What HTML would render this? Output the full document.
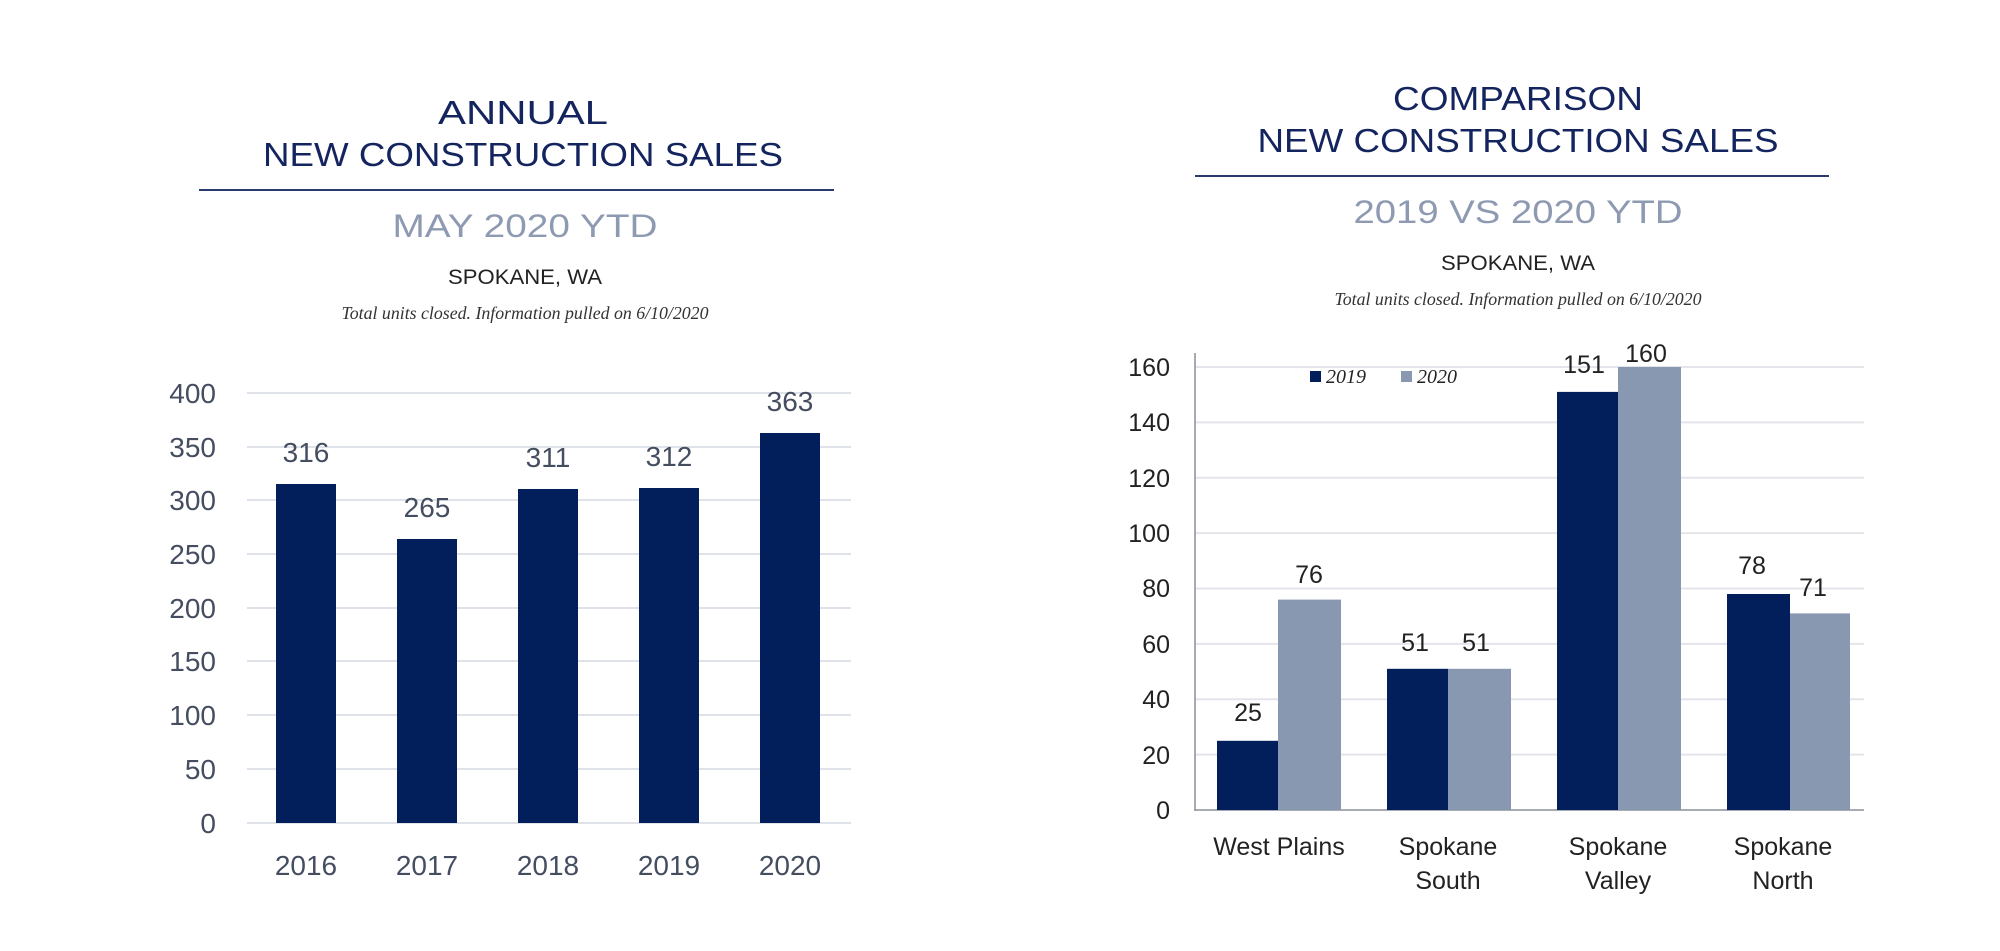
<!DOCTYPE html>
<html><head><meta charset="utf-8"><style>
html,body{margin:0;padding:0;background:#fff;}
svg{display:block;}
</style></head><body>
<svg width="2000" height="951" viewBox="0 0 2000 951" xmlns="http://www.w3.org/2000/svg">
<rect width="2000" height="951" fill="#fff"/>
<g font-family="Liberation Sans, sans-serif" text-anchor="middle">
<text x="523" y="124" font-size="33" fill="#14245e" textLength="170" lengthAdjust="spacingAndGlyphs">ANNUAL</text>
<text x="523" y="166" font-size="33" fill="#14245e" textLength="520" lengthAdjust="spacingAndGlyphs">NEW CONSTRUCTION SALES</text>
<rect x="199" y="189" width="635" height="2" fill="#2a3a6e"/>
<text x="525" y="237" font-size="32" fill="#8e9ab2" textLength="265" lengthAdjust="spacingAndGlyphs">MAY 2020 YTD</text>
<text x="525" y="284" font-size="21" fill="#222" textLength="154" lengthAdjust="spacingAndGlyphs">SPOKANE, WA</text>
<text x="525" y="319" font-size="18" fill="#333" font-family="Liberation Serif, serif" font-style="italic" textLength="367" lengthAdjust="spacingAndGlyphs">Total units closed.  Information pulled on 6/10/2020</text>

<text x="1518" y="110" font-size="33" fill="#14245e" textLength="250" lengthAdjust="spacingAndGlyphs">COMPARISON</text>
<text x="1518" y="152" font-size="33" fill="#14245e" textLength="521" lengthAdjust="spacingAndGlyphs">NEW CONSTRUCTION SALES</text>
<rect x="1195" y="175" width="634" height="2" fill="#2a3a6e"/>
<text x="1518" y="223" font-size="32" fill="#8e9ab2" textLength="329" lengthAdjust="spacingAndGlyphs">2019 VS 2020 YTD</text>
<text x="1518" y="270" font-size="21" fill="#222" textLength="154" lengthAdjust="spacingAndGlyphs">SPOKANE, WA</text>
<text x="1518" y="305" font-size="18" fill="#333" font-family="Liberation Serif, serif" font-style="italic" textLength="367" lengthAdjust="spacingAndGlyphs">Total units closed.  Information pulled on 6/10/2020</text>
</g>

<!-- Left chart -->
<g stroke="#dfe2e8" stroke-width="2">
<line x1="247" x2="851" y1="393" y2="393"/>
<line x1="247" x2="851" y1="447" y2="447"/>
<line x1="247" x2="851" y1="500" y2="500"/>
<line x1="247" x2="851" y1="554" y2="554"/>
<line x1="247" x2="851" y1="608" y2="608"/>
<line x1="247" x2="851" y1="661" y2="661"/>
<line x1="247" x2="851" y1="715" y2="715"/>
<line x1="247" x2="851" y1="769" y2="769"/>
<line x1="247" x2="851" y1="823" y2="823"/>
</g>
<g font-family="Liberation Sans, sans-serif" font-size="28" fill="#454d60" text-anchor="end">
<text x="216" y="403">400</text><text x="216" y="457">350</text><text x="216" y="510">300</text>
<text x="216" y="564">250</text><text x="216" y="618">200</text><text x="216" y="671">150</text>
<text x="216" y="725">100</text><text x="216" y="779">50</text><text x="216" y="833">0</text>
</g>
<g fill="#021f5c">
<rect x="276" y="484" width="60" height="339"/>
<rect x="397" y="539" width="60" height="284"/>
<rect x="518" y="489" width="60" height="334"/>
<rect x="639" y="488" width="60" height="335"/>
<rect x="760" y="433" width="60" height="390"/>
</g>
<g font-family="Liberation Sans, sans-serif" font-size="28" fill="#454d60" text-anchor="middle">
<text x="306" y="462">316</text><text x="427" y="517">265</text><text x="548" y="467">311</text>
<text x="669" y="466">312</text><text x="790" y="411">363</text>
<text x="306" y="875">2016</text><text x="427" y="875">2017</text><text x="548" y="875">2018</text>
<text x="669" y="875">2019</text><text x="790" y="875">2020</text>
</g>

<!-- Right chart -->
<g stroke="#e3e5ea" stroke-width="2">
<line x1="1195" x2="1864" y1="367" y2="367"/>
<line x1="1195" x2="1864" y1="422.4" y2="422.4"/>
<line x1="1195" x2="1864" y1="477.8" y2="477.8"/>
<line x1="1195" x2="1864" y1="533.1" y2="533.1"/>
<line x1="1195" x2="1864" y1="588.5" y2="588.5"/>
<line x1="1195" x2="1864" y1="643.9" y2="643.9"/>
<line x1="1195" x2="1864" y1="699.3" y2="699.3"/>
<line x1="1195" x2="1864" y1="754.6" y2="754.6"/>
</g>
<line x1="1195" x2="1195" y1="353" y2="811" stroke="#8a8f99" stroke-width="1.5"/>
<line x1="1195" x2="1864" y1="810" y2="810" stroke="#8a8f99" stroke-width="1.5"/>
<g font-family="Liberation Sans, sans-serif" font-size="25" fill="#222" text-anchor="end">
<text x="1170" y="376">160</text><text x="1170" y="431">140</text><text x="1170" y="487">120</text>
<text x="1170" y="542">100</text><text x="1170" y="597">80</text><text x="1170" y="653">60</text>
<text x="1170" y="708">40</text><text x="1170" y="764">20</text><text x="1170" y="819">0</text>
</g>
<g fill="#021f5c">
<rect x="1217" y="740.8" width="61" height="69.2"/>
<rect x="1387" y="668.8" width="61" height="141.2"/>
<rect x="1557" y="391.9" width="61" height="418.1"/>
<rect x="1727" y="594" width="63" height="216"/>
</g>
<g fill="#8898b0">
<rect x="1278" y="599.6" width="63" height="210.4"/>
<rect x="1448" y="668.8" width="63" height="141.2"/>
<rect x="1618" y="367" width="63" height="443"/>
<rect x="1790" y="613.4" width="60" height="196.6"/>
</g>
<g font-family="Liberation Sans, sans-serif" font-size="25" fill="#222" text-anchor="middle">
<text x="1248" y="721">25</text><text x="1309" y="583">76</text>
<text x="1415" y="651">51</text><text x="1476" y="651">51</text>
<text x="1584" y="373">151</text><text x="1646" y="362">160</text>
<text x="1752" y="574">78</text><text x="1813" y="596">71</text>
<text x="1279" y="855">West Plains</text>
<text x="1448" y="855">Spokane</text><text x="1448" y="889">South</text>
<text x="1618" y="855">Spokane</text><text x="1618" y="889">Valley</text>
<text x="1783" y="855">Spokane</text><text x="1783" y="889">North</text>
</g>
<rect x="1310" y="371" width="11" height="11" fill="#021f5c"/>
<rect x="1401" y="371" width="11" height="11" fill="#8898b0"/>
<g font-family="Liberation Serif, serif" font-style="italic" font-size="20" fill="#222">
<text x="1326" y="383">2019</text><text x="1417" y="383">2020</text>
</g>
</svg>
</body></html>
